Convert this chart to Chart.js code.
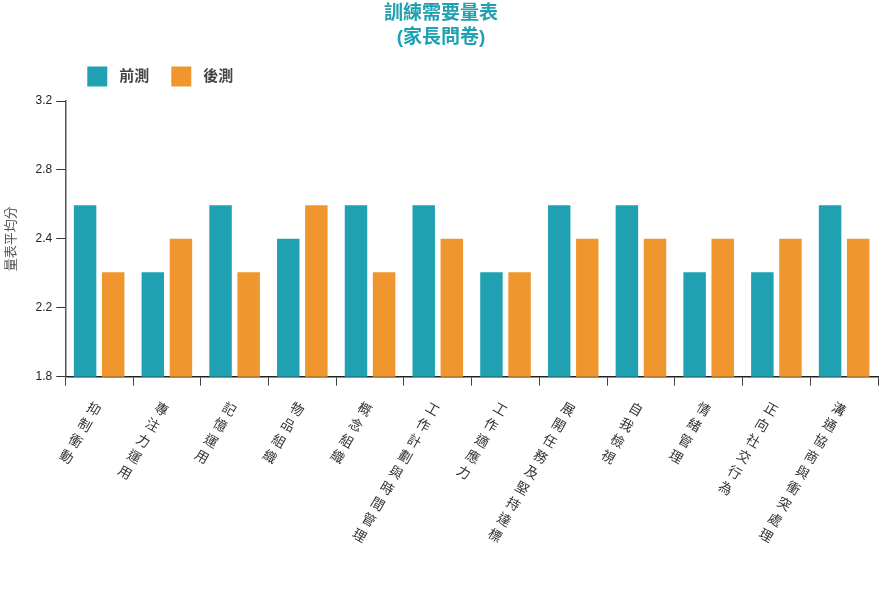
<!DOCTYPE html>
<html>
<head>
<meta charset="utf-8">
<script src="https://cdn.jsdelivr.net/npm/chart.js@4/dist/chart.umd.min.js"></script>
<style>
  body { margin: 0; background: #fff; }
  #wrap { width: 885px; height: 612px; }
</style>
</head>
<body>
<div id="wrap"><canvas id="myChart"></canvas></div>
<script>
const categories = [
    '抑制衝動',
    '專注力運用',
    '記憶運用',
    '物品組織',
    '概念組織',
    '工作計劃與時間管理',
    '工作適應力',
    '展開任務及堅持達標',
    '自我檢視',
    '情緒管理',
    '正向社交行為',
    '溝通協商與衝突處理',
];
const preTest = [2.67, 2.33, 2.67, 2.5, 2.67, 2.67, 2.33, 2.67, 2.67, 2.33, 2.33, 2.67];
const postTest = [2.33, 2.5, 2.33, 2.67, 2.33, 2.5, 2.33, 2.5, 2.5, 2.5, 2.5, 2.5];
const yTickLabels = ['1.8', '2.2', '2.4', '2.8', '3.2'];
const yMin = 1.8;
const yMax = 3.2;

const fontFamily = '"Liberation Sans", Arial, "Noto Sans CJK TC", sans-serif';

const dataChart = {
    // each character on its own line, so the column can be tilted
    labels: categories.map(name => Array.from(name)),
    datasets: [
        {
            label: '前測',
            backgroundColor: '#1fa1b2',
            data: preTest,
        },
        {
            label: '後測',
            backgroundColor: '#ef972e',
            data: postTest,
        },
    ],
};

// legend swatch drawn bigger then trimmed with a white stroke, to get the wider gap before the text
const legendLabels = chart => chart.data.datasets.map((ds, i) => ({
    text: ds.label,
    fillStyle: ds.backgroundColor,
    strokeStyle: '#fff',
    lineWidth: 9,
    fontColor: '#444',
    hidden: !chart.isDatasetVisible(i),
    datasetIndex: i,
}));

const configChart = {
    type: 'bar',
    data: dataChart,
    options: {
        responsive: true,
        maintainAspectRatio: false,
        animation: false,
        layout: {
            padding: { left: 4, right: 7, top: 0, bottom: 51 },
        },
        datasets: {
            bar: { categoryPercentage: 0.83, barPercentage: 0.8 },
        },
        plugins: {
            title: {
                display: true,
                text: ['訓練需要量表', '(家長問卷)'],
                color: '#1fa1b2',
                font: { family: fontFamily, size: 19, weight: 'bold', lineHeight: 1.25 },
                padding: { top: 2, bottom: -5 },
            },
            legend: {
                position: 'top',
                align: 'start',
                fullSize: false,
                labels: {
                    boxWidth: 29,
                    boxHeight: 29,
                    padding: 17.5,
                    color: '#444',
                    font: { family: fontFamily, size: 15, weight: 'bold' },
                    generateLabels: legendLabels,
                },
            },
            tooltip: { enabled: false },
        },
        scales: {
            x: {
                grid: {
                    display: true,
                    drawOnChartArea: false,
                    tickLength: 9,
                    color: '#444',
                },
                border: { color: '#222', width: 1.5 },
                ticks: {
                    minRotation: -30,
                    maxRotation: -30,
                    autoSkip: false,
                    padding: 20,
                    color: '#333',
                    font: { family: fontFamily, size: 13.5, lineHeight: 1.35 },
                },
            },
            y: {
                min: yMin,
                max: yMax,
                afterBuildTicks: axis => {
                    const step = (yMax - yMin) / (yTickLabels.length - 1);
                    axis.ticks = yTickLabels.map((l, i) => ({ value: yMin + i * step }));
                },
                grid: {
                    display: true,
                    drawOnChartArea: false,
                    tickLength: 9,
                    color: '#333',
                },
                border: { color: '#555', width: 1.5 },
                ticks: {
                    padding: 4,
                    color: '#222',
                    font: { family: fontFamily, size: 12 },
                    callback: (value, index) => yTickLabels[index],
                },
                title: {
                    display: true,
                    text: '量表平均分',
                    color: '#555',
                    font: { family: fontFamily, size: 13 },
                    padding: { top: 0, bottom: 12 },
                },
            },
        },
    },
};

const myChart = new Chart(document.getElementById('myChart'), configChart);
</script>
</body>
</html>
